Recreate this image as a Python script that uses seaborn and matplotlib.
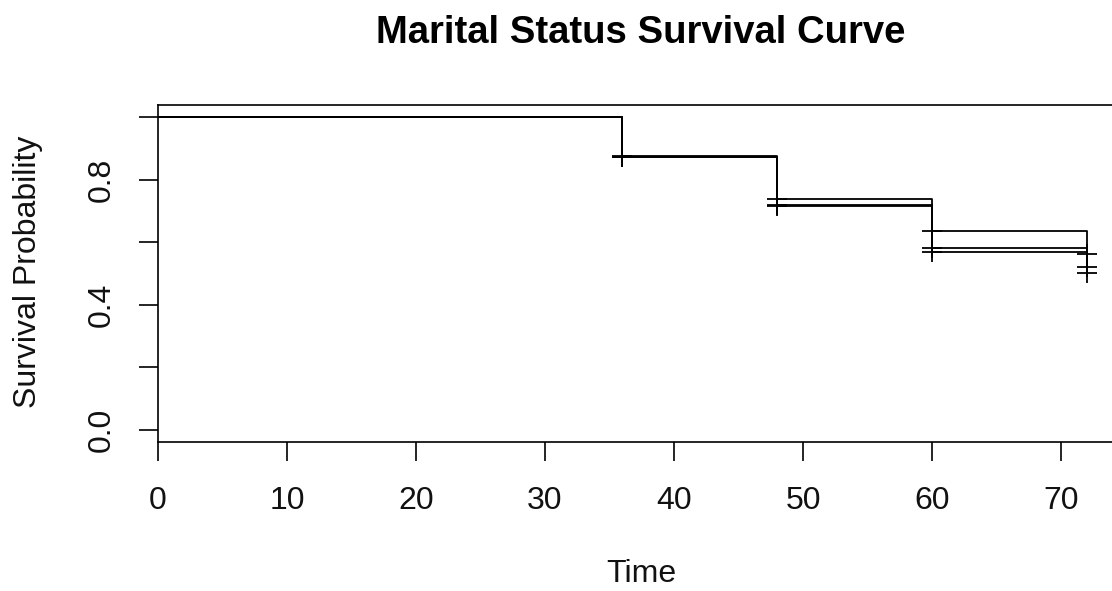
import numpy as np
import pandas as pd
import matplotlib
matplotlib.use("Agg")
import matplotlib.pyplot as plt
import seaborn as sns

# ---- data ----
times = [0, 36, 48, 60, 72]
surv_married = [1.0, 0.878, 0.740, 0.636, 0.563]
surv_single = [1.0, 0.874, 0.720, 0.582, 0.521]
surv_divorced = [1.0, 0.874, 0.715, 0.569, 0.502]
groups = ["Married", "Single", "Divorced"]
censor_times = [36, 48, 60, 72]

x_ticks = [0, 10, 20, 30, 40, 50, 60, 70]
y_ticks = [0.0, 0.2, 0.4, 0.6, 0.8, 1.0]
y_ticklabels = ["0.0", "", "0.4", "", "0.8", ""]

title = "Marital Status Survival Curve"
xlabel = "Time"
ylabel = "Survival Probability"

# ---- build tables ----
series = [surv_married, surv_single, surv_divorced]
rows = []
cens = []
for g, s in zip(groups, series):
    for t, v in zip(times, s):
        rows.append({"time": t, "surv": v, "group": g})
        if t in censor_times:
            cens.append({"time": t, "surv": v, "group": g})
df = pd.DataFrame(rows)
df_c = pd.DataFrame(cens)

sns.set_style("white")
plt.rcParams["font.family"] = ["Liberation Sans", "DejaVu Sans"]

W, H = 1112, 591
fig = plt.figure(figsize=(W / 100, H / 100), dpi=100)
left = 158 / W
bottom = (H - 442) / H
width = 966 / W
height = (442 - 105) / H
ax = fig.add_axes([left, bottom, width, height])

sns.lineplot(data=df, x="time", y="surv", units="group", estimator=None,
             drawstyle="steps-post", color="black", linewidth=1.3,
             legend=False, ax=ax, sort=True)
sns.scatterplot(data=df_c, x="time", y="surv", marker="+", s=200,
                color="black", linewidth=1.3, legend=False, ax=ax, zorder=3)

ax.set_xlim(0, 74.88)
ax.set_ylim(-0.04, 1.04)
ax.set_xticks(x_ticks)
ax.set_xticklabels([str(v) for v in x_ticks])
ax.set_yticks(y_ticks)
ax.set_yticklabels(y_ticklabels, rotation=90, va="center")

for sp in ax.spines.values():
    sp.set_color("black")
    sp.set_linewidth(1.2)

ax.tick_params(axis="both", which="major", direction="out", length=14,
               width=1.2, color="black", labelsize=23, labelcolor="#111111",
               bottom=True, left=True)
ax.tick_params(axis="x", pad=18)
ax.tick_params(axis="y", pad=16)

ax.set_xlabel("")
ax.set_ylabel("")
fig.text(641 / W, 1 - 574 / H, xlabel, ha="center", va="center",
         fontsize=23, color="#111111")
fig.text(28 / W, 1 - 272 / H, ylabel, ha="center", va="center",
         rotation=90, fontsize=23, color="#111111")
fig.text(641 / W, 1 - 33 / H, title, ha="center", va="center",
         fontsize=27.5, fontweight="bold", color="black")

fig.savefig("out.png", dpi=100)
